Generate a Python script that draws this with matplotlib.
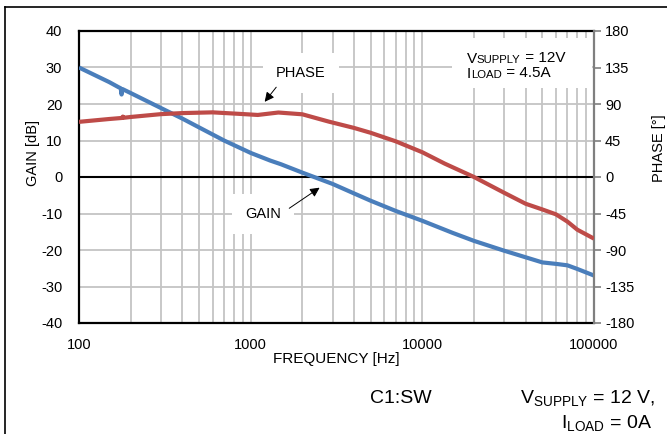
import matplotlib
matplotlib.use("Agg")
import matplotlib.pyplot as plt
from matplotlib.lines import Line2D
from matplotlib.patches import Rectangle
from matplotlib.ticker import FixedLocator, NullFormatter

plt.rcParams['font.family'] = ['Liberation Sans', 'DejaVu Sans']
plt.rcParams['mathtext.fontset'] = 'custom'
plt.rcParams['mathtext.rm'] = 'Liberation Sans'
plt.rcParams['mathtext.it'] = 'Liberation Sans'
plt.rcParams['axes.unicode_minus'] = False

# ============================= Data ============================= #
gain_freq = [100, 150, 170, 175, 177, 179, 200, 300, 400, 500, 700, 1000, 1300, 1500, 2000,
             2500, 3000, 4000, 5000, 7000, 10000, 15000, 20000, 30000, 40000, 50000, 60000,
             70000, 80000, 100000]
gain_db = [30, 26.0, 24.6, 24.3, 22.6, 24.1, 23.0, 18.9, 16.0, 13.6, 10.0, 6.6, 4.5, 3.5, 1.2,
           -0.5, -1.9, -4.5, -6.5, -9.3, -12.0, -15.3, -17.5, -20.2, -22.0, -23.4, -23.8,
           -24.2, -25.2, -27.0]

phase_freq = [100, 150, 178, 180, 182, 200, 300, 400, 600, 900, 1100, 1450, 2000, 2850,
              4000, 5000, 7000, 10000, 13500, 20000, 30000, 40000, 50000, 60000, 70000, 80000,
              100000]
phase_deg = [68, 71.5, 72.8, 74.5, 73, 74, 77.5, 78.8, 79.7, 77.6, 76.5, 79.5, 77.3, 68.3,
             60.5, 54.5, 44, 30.5, 16.5, 0, -19.5, -33, -40, -46, -55, -65, -76]

freq_ticks = [100, 1000, 10000, 100000]
freq_ticklabels = ["100", "1000", "10000", "100000"]
minor_freqs = [m * d for d in [100, 1000, 10000] for m in range(2, 10)]
gain_ticks = list(range(-40, 41, 10))
phase_ticks = list(range(-180, 181, 45))

blue = "#4a7ebb"
red = "#be4b48"
grid_gray = "#c4c4c4"

# ============================= Figure ============================= #
fig = plt.figure(figsize=(6.67, 4.34), dpi=100)
ax = fig.add_axes([79/667, 1 - 323/434, (594 - 79)/667, (323 - 31)/434])
ax2 = ax.twinx()

ax.set_xscale("log")
ax.set_xlim(100, 100000)
ax.set_ylim(-40, 40)
ax2.set_ylim(-180, 180)

# grid
ax.xaxis.set_major_locator(FixedLocator(freq_ticks))
ax.xaxis.set_minor_locator(FixedLocator(minor_freqs))
ax.xaxis.set_minor_formatter(NullFormatter())
ax.set_xticklabels(freq_ticklabels)
ax.set_yticks(gain_ticks)
ax2.set_yticks(phase_ticks)
ax.grid(True, which="both", axis="x", color=grid_gray, lw=1.3)
ax.grid(True, which="major", axis="y", color=grid_gray, lw=1.3)
ax.set_axisbelow(True)
ax.axhline(0, color="black", lw=1.5, zorder=2)

# curves
ax.plot(gain_freq, gain_db, color=blue, lw=3, solid_capstyle="butt", zorder=3)
ax2.plot(phase_freq, phase_deg, color=red, lw=3, solid_capstyle="butt", zorder=3)

# spines / ticks
for s in ["left", "bottom", "top"]:
    ax.spines[s].set_color("black")
    ax.spines[s].set_linewidth(1.6)
    ax2.spines[s].set_visible(False)
ax.spines["right"].set_visible(False)
ax2.spines["right"].set_color("#7f7f7f")
ax2.spines["right"].set_linewidth(1.6)

ax.tick_params(axis="x", which="both", length=0, pad=11, labelsize=10.5)
ax.tick_params(axis="y", length=0, pad=12, labelsize=10.5)
ax2.tick_params(axis="y", length=5, width=1.2, color="#7f7f7f", pad=3, labelsize=10.5)

ax.set_xlabel("FREQUENCY [Hz]", fontsize=11)
ax.xaxis.set_label_coords(0.5, -0.1)
ax.set_ylabel("GAIN [dB]", fontsize=10.5)
ax.yaxis.set_label_coords(-0.076, 0.582)
ax2.set_ylabel("PHASE [°]", fontsize=10.5)
ax2.yaxis.set_label_coords(1.113, 0.599)

# annotations
ax2.text(1963, 28.5, "PHASE", transform=ax.transData, fontsize=10.5, ha="center", va="center",
         bbox=dict(facecolor="white", edgecolor="none", boxstyle="square,pad=0.9"), zorder=4)
ax2.annotate("", xy=(1179, 20.0), xytext=(1442, 25.2), xycoords=ax.transData, textcoords=ax.transData,
             arrowprops=dict(arrowstyle="-|>", color="black", lw=0.7, mutation_scale=14), zorder=5)
ax2.text(1179, -10.1, "GAIN", transform=ax.transData, fontsize=10.5, ha="center", va="center",
         bbox=dict(facecolor="white", edgecolor="none", boxstyle="square,pad=0.9"), zorder=4)
ax2.annotate("", xy=(2600, -2.5), xytext=(1627, -9.0), xycoords=ax.transData, textcoords=ax.transData,
             arrowprops=dict(arrowstyle="-|>", color="black", lw=0.7, mutation_scale=14), zorder=5)

# condition box (top right)
ax2.add_patch(Rectangle((0.724, 0.805), 0.273, 0.171, transform=ax2.transAxes,
                        facecolor="white", edgecolor="none", zorder=4))


def small_caps(x, y, big, small, rest):
    t1 = ax2.text(x, y, big, transform=ax2.transAxes, fontsize=11, va="baseline", zorder=5)
    t2 = ax2.annotate(small, xy=(1, 0), xycoords=t1, xytext=(0, 2.4), textcoords="offset points",
                      fontsize=8.2, va="baseline", zorder=5)
    ax2.annotate(rest, xy=(1, 0), xycoords=t2, xytext=(0, 1.8), textcoords="offset points",
                 fontsize=11, va="baseline", zorder=5)


small_caps(0.753, 0.890, "V", "SUPPLY", " = 12V")
small_caps(0.753, 0.839, "I", "LOAD", " = 4.5A")

# bottom notes
fig.text(401/667, 1 - 403/434, "C1:SW", fontsize=14, ha="center", va="baseline")
fig.text(655/667, 1 - 403/434, r"V$_{\mathrm{SUPPLY}}$ = 12 V,", fontsize=14, ha="right", va="baseline")
fig.text(652/667, 1 - 428/434, r"I$_{\mathrm{LOAD}}$ = 0A", fontsize=14, ha="right", va="baseline")

# outer frame
fig.add_artist(Line2D([5/667, 1], [1 - 7/434, 1 - 7/434], color="black", lw=1.2))
fig.add_artist(Line2D([5/667, 5/667], [0, 1 - 7/434], color="black", lw=1.2))

fig.savefig("out.png", dpi=100)
